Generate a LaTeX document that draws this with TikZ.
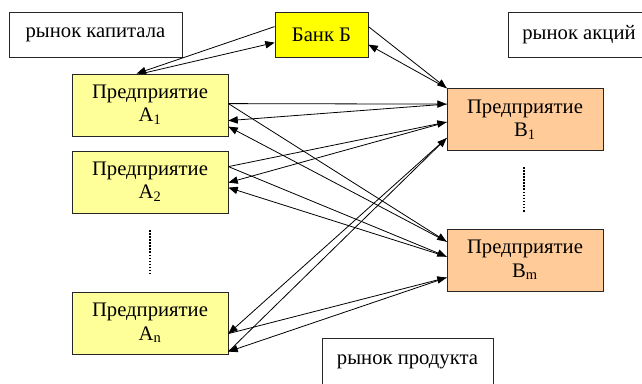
\documentclass[tikz,border=0pt]{standalone}
\usepackage{fontspec}
\setmainfont{Liberation Serif}
\usetikzlibrary{arrows.meta,calc}
\definecolor{ayel}{HTML}{FFFF99}
\definecolor{byel}{HTML}{FFFF00}
\definecolor{bpeach}{HTML}{FFCC99}
\begin{document}
\begin{tikzpicture}[x=0.75pt,y=-0.75pt,
  box/.style={draw=black!85, line width=0.6pt, inner sep=0pt, align=center,
              font=\fontsize{15.5}{17.5}\selectfont},
  abox/.style={box, fill=ayel, minimum width=117pt, minimum height=46.5pt},
  bbox/.style={box, fill=bpeach, minimum width=117pt, minimum height=46.5pt},
  mbox/.style={box, fill=white, minimum height=33.75pt},
  arr/.style={line width=0.6pt, -{Triangle[length=7pt,width=5.5pt]}},
  vdots/.style={line width=1.5pt, dash pattern=on 1.2pt off 1.1pt}]
\useasboundingbox (0,0) rectangle (642,383);

% market boxes
\node[mbox, minimum width=129.75pt] (cap) at (95.5,34.5) {рынок капитала};
\node[mbox, minimum width=106.5pt] (akc) at (579,34.5) {рынок акций};
\node[mbox, minimum width=128.25pt, minimum height=35.25pt] (prod) at (407.5,361.5) {рынок продукта};
\node[box, fill=byel, minimum width=69.75pt, minimum height=33.75pt] (bank) at (321.5,34.5) {Банк Б};

% enterprises
\node[abox] (A1) at (150,105) {Предприятие\\A\textsubscript{1}};
\node[abox] (A2) at (150,182) {Предприятие\\A\textsubscript{2}};
\node[abox] (An) at (150,323) {Предприятие\\A\textsubscript{n}};
\node[bbox] (B1) at (525,119.5) {Предприятие\\B\textsubscript{1}};
\node[bbox] (Bm) at (525,260) {Предприятие\\B\textsubscript{m}};

% dotted separators
\coordinate (da1) at (150,230); \coordinate (da2) at (150,273);
\coordinate (db1) at (524,167); \coordinate (db2) at (524,212);
\draw[vdots] (da1) -- (da2);
\draw[vdots] (db1) -- (db2);

% attachment points
\coordinate (a1o)  at ($(A1.north east)+(0,30)$);
\coordinate (a1i1) at ($(A1.north east)+(0,47)$);
\coordinate (a1i2) at ($(A1.north east)+(0,53)$);
\coordinate (a2o)  at ($(A2.north east)+(0,16)$);
\coordinate (a2i1) at ($(A2.north east)+(0,32)$);
\coordinate (a2i2) at ($(A2.north east)+(0,37)$);
\coordinate (anp1) at ($(An.north east)+(0,42)$);
\coordinate (anp2) at ($(An.north east)+(0,60)$);
\coordinate (a1t1) at ($(A1.north west)+(65,0)$);
\coordinate (a1t2) at ($(A1.north west)+(70,0)$);
\coordinate (b1a1) at ($(B1.north west)+(0,16)$);
\coordinate (b1a2) at ($(B1.north west)+(0,34)$);
\coordinate (b1an) at ($(B1.north west)+(0,50)$);
\coordinate (bma1) at ($(Bm.north west)+(0,13)$);
\coordinate (bma2) at ($(Bm.north west)+(0,28)$);
\coordinate (bman) at ($(Bm.north west)+(0,49)$);
\coordinate (bl1) at ($(bank.north west)+(0,15)$);
\coordinate (bl2) at ($(bank.north west)+(0,31)$);
\coordinate (br1) at ($(bank.north east)+(0,15)$);
\coordinate (br2) at ($(bank.north east)+(0,33)$);

% bank connections
\draw[arr] (bl1) -- (a1t1);
\draw[arr] (a1t2) -- (bl2);
\draw[arr] (br1) -- (B1.north west);
\draw[arr] (B1.north west) -- (br2);

% A1
\draw[arr] (a1o) -- (b1a1);
\draw[arr] (b1a1) -- (a1i1);
\draw[arr] (a1o) -- (bma1);
\draw[arr] (bma1) -- (a1i2);
% A2
\draw[arr] (a2o) -- (b1a2);
\draw[arr] (b1a2) -- (a2i1);
\draw[arr] (a2o) -- (bma2);
\draw[arr] (bma2) -- (a2i2);
% An
\draw[arr] (anp2) -- (b1an);
\draw[arr] (b1an) -- (anp1);
\draw[arr] (anp1) -- (bman);
\draw[arr] (bman) -- (anp2);
\end{tikzpicture}
\end{document}
